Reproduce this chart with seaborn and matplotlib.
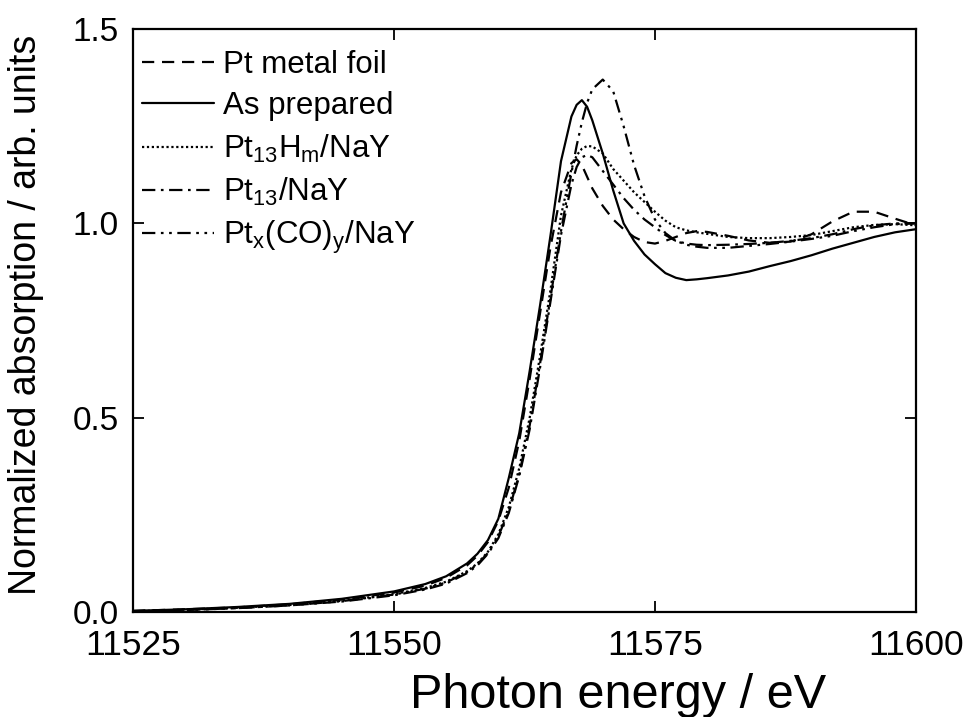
import numpy as np
import pandas as pd
import matplotlib
matplotlib.use("Agg")
import matplotlib.pyplot as plt
import seaborn as sns

energy = [11525, 11530, 11535, 11540, 11545, 11550, 11553, 11555, 11557, 11558,
          11559, 11560, 11561, 11562, 11563, 11564, 11565, 11566, 11567, 11567.5,
          11568, 11568.5, 11569, 11570, 11571, 11572, 11573, 11574, 11575, 11576,
          11577, 11578, 11579, 11580, 11582, 11584, 11586, 11588, 11590, 11592,
          11594, 11596, 11598, 11600]

pt_foil = [0.003, 0.007, 0.012, 0.020, 0.032, 0.050, 0.068, 0.088, 0.120, 0.145,
           0.180, 0.235, 0.320, 0.440, 0.600, 0.770, 0.940, 1.080, 1.155, 1.165,
           1.150, 1.120, 1.090, 1.045, 1.010, 0.985, 0.965, 0.952, 0.948, 0.955,
           0.965, 0.975, 0.980, 0.978, 0.968, 0.956, 0.950, 0.953, 0.972, 1.005,
           1.030, 1.030, 1.012, 0.995]

as_prepared = [0.003, 0.007, 0.013, 0.021, 0.034, 0.053, 0.072, 0.092, 0.125, 0.150,
               0.185, 0.240, 0.345, 0.460, 0.620, 0.790, 0.970, 1.160, 1.275, 1.305,
               1.317, 1.300, 1.265, 1.180, 1.085, 1.000, 0.955, 0.920, 0.895, 0.872,
               0.860, 0.854, 0.856, 0.859, 0.866, 0.876, 0.890, 0.903, 0.918, 0.935,
               0.950, 0.965, 0.977, 0.985]

pt13hm = [0.002, 0.006, 0.011, 0.018, 0.029, 0.046, 0.062, 0.078, 0.105, 0.125,
          0.155, 0.200, 0.270, 0.370, 0.500, 0.660, 0.830, 1.020, 1.140, 1.175,
          1.192, 1.199, 1.198, 1.180, 1.140, 1.110, 1.080, 1.055, 1.030, 1.007,
          0.990, 0.982, 0.977, 0.973, 0.965, 0.962, 0.962, 0.965, 0.970, 0.980,
          0.990, 0.996, 0.998, 0.995]

pt13 = [0.002, 0.005, 0.010, 0.017, 0.027, 0.043, 0.058, 0.073, 0.100, 0.120,
        0.150, 0.190, 0.255, 0.350, 0.470, 0.630, 0.800, 0.970, 1.100, 1.145,
        1.170, 1.176, 1.170, 1.135, 1.100, 1.065, 1.035, 1.010, 0.990, 0.970,
        0.955, 0.948, 0.945, 0.944, 0.945, 0.947, 0.950, 0.955, 0.962, 0.972,
        0.985, 0.995, 1.000, 1.000]

ptco = [0.002, 0.005, 0.010, 0.017, 0.028, 0.045, 0.060, 0.076, 0.103, 0.123,
        0.152, 0.195, 0.260, 0.355, 0.480, 0.640, 0.810, 0.980, 1.130, 1.200,
        1.260, 1.310, 1.345, 1.370, 1.340, 1.250, 1.150, 1.070, 1.010, 0.975,
        0.955, 0.945, 0.940, 0.937, 0.937, 0.942, 0.947, 0.953, 0.960, 0.968,
        0.980, 0.990, 0.998, 1.000]

labels = ["Pt metal foil", "As prepared",
          r"Pt$_{\mathregular{13}}$H$_{\mathregular{m}}$/NaY",
          r"Pt$_{\mathregular{13}}$/NaY",
          r"Pt$_{\mathregular{x}}$(CO)$_{\mathregular{y}}$/NaY"]
series = [pt_foil, as_prepared, pt13hm, pt13, ptco]
styles = [(0, (5.5, 3.5)), "-", (0, (1, 1.2)), (0, (6, 2.5, 1.2, 2.5)),
          (0, (6, 2.5, 1.2, 2.5, 1.2, 2.5))]

sns.set_style("ticks")
plt.rcParams["font.family"] = ["Liberation Sans", "DejaVu Sans"]
plt.rcParams["mathtext.fontset"] = "custom"
plt.rcParams["mathtext.rm"] = "Liberation Sans"
plt.rcParams["mathtext.it"] = "Liberation Sans:italic"
plt.rcParams["text.color"] = "black"
plt.rcParams["axes.labelcolor"] = "black"
plt.rcParams["xtick.color"] = "black"
plt.rcParams["ytick.color"] = "black"

fig = plt.figure(figsize=(9.67, 7.17), dpi=100)
ax = fig.add_axes([0.1375, 0.1464, 0.8097, 0.8131])

for lab, vals, ls in zip(labels, series, styles):
    df = pd.DataFrame({"E": energy, "A": vals})
    sns.lineplot(data=df, x="E", y="A", ax=ax, color="black", lw=1.6,
                 linestyle=ls, label=lab)

ax.set_xlim(11525, 11600)
ax.set_ylim(0, 1.5)
ax.set_xticks([11525, 11550, 11575, 11600])
ax.set_xticklabels(["11525", "11550", "11575", "11600"])
ax.set_yticks([0, 0.5, 1.0, 1.5])
ax.set_yticklabels(["0.0", "0.5", "1.0", "1.5"])
ax.tick_params(direction="in", length=8, width=1.3,
               top=True, right=True, colors="black")
ax.tick_params(axis="x", pad=12, labelsize=25.5)
ax.tick_params(axis="y", pad=10, labelsize=24)
for s in ax.spines.values():
    s.set_linewidth(1.6)
    s.set_color("black")

ax.set_xlabel("Photon energy / eV", fontsize=35)
ax.xaxis.set_label_coords(0.619, -0.104)
ax.set_ylabel("Normalized absorption / arb. units", fontsize=27)
ax.yaxis.set_label_coords(-0.113, 0.51)

handles, labs = ax.get_legend_handles_labels()
leg = ax.legend(handles, labs, loc="upper left", bbox_to_anchor=(0.0115, 0.964),
                frameon=False, fontsize=22.5, handlelength=2.3,
                handletextpad=0.3, labelspacing=0.36, borderaxespad=0,
                borderpad=0)

fig.savefig("out.png", dpi=100)
